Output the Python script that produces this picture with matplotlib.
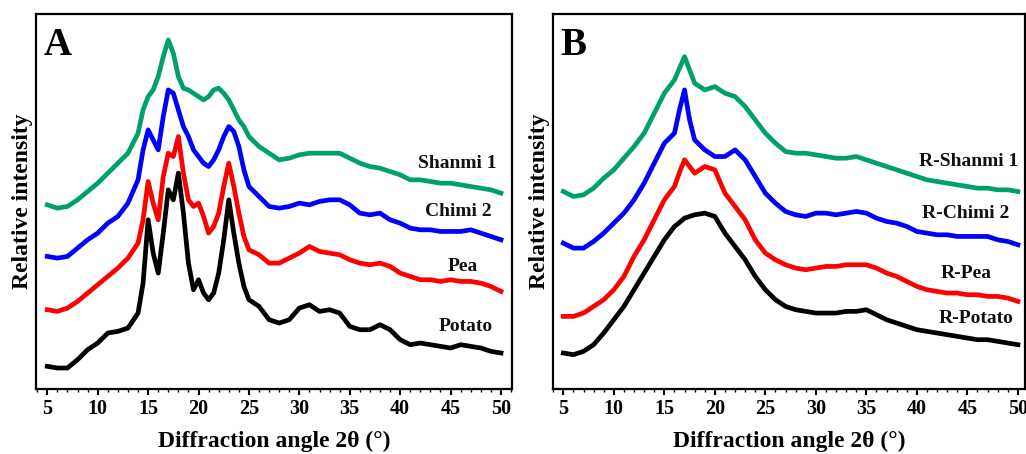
import matplotlib
matplotlib.use("Agg")
import matplotlib.pyplot as plt
from matplotlib.ticker import MultipleLocator

plt.rcParams['font.family'] = ['Liberation Serif', 'DejaVu Serif']

# ---------------- data (relative intensity, arbitrary units) ----------------
angle = [5, 6, 7, 8, 9, 10, 11, 12, 13, 14, 14.5, 15, 15.5, 16, 16.5, 17, 17.5,
         18, 18.5, 19, 19.5, 20, 20.5, 21, 21.5, 22, 22.5, 23, 23.5, 24, 24.5,
         25, 26, 27, 28, 29, 30, 31, 32, 33, 34, 35, 36, 37, 38, 39, 40, 41,
         42, 43, 44, 45, 46, 47, 48, 49, 50]

# Panel A (native starches)
potato = [68, 63, 63, 88, 118, 138, 168, 173, 183, 228, 318, 508, 408, 348, 468,
          598, 568, 648, 528, 378, 298, 328, 288, 268, 288, 348, 448, 568, 468,
          378, 308, 268, 248, 208, 198, 208, 243, 253, 233, 238, 228, 188, 178,
          178, 193, 178, 148, 133, 138, 133, 128, 123, 133, 128, 123, 113, 108]
pea = [238, 233, 243, 263, 288, 313, 338, 363, 393, 438, 508, 623, 558, 508,
       638, 708, 698, 758, 648, 568, 548, 558, 518, 468, 488, 528, 608, 678,
       608, 528, 458, 418, 403, 378, 378, 393, 408, 428, 413, 408, 403, 388,
       378, 373, 378, 368, 348, 338, 328, 328, 323, 328, 323, 323, 318, 308, 293]
chimi2 = [398, 393, 398, 423, 448, 468, 498, 518, 558, 628, 718, 778, 748, 718,
          818, 898, 888, 838, 788, 758, 718, 698, 678, 668, 688, 718, 758, 788,
          773, 728, 658, 608, 578, 548, 543, 548, 558, 553, 563, 568, 568, 553,
          528, 523, 528, 508, 498, 483, 478, 478, 473, 473, 473, 478, 468, 458, 448]
shanmi1 = [553, 543, 548, 568, 593, 618, 648, 678, 708, 768, 838, 878, 898, 938,
           998, 1048, 1008, 938, 903, 898, 888, 878, 868, 878, 898, 903, 888,
           868, 838, 808, 788, 758, 728, 708, 688, 693, 703, 708, 708, 708, 708,
           693, 678, 668, 663, 653, 643, 628, 628, 623, 618, 618, 613, 608, 603,
           598, 588]

# Panel B (retrograded starches)
angle_b = [5, 6, 7, 8, 9, 10, 11, 12, 13, 14, 15, 16, 16.5, 17, 17.5, 18, 19,
           20, 21, 22, 23, 24, 25, 26, 27, 28, 29, 30, 31, 32, 33, 34, 35, 36,
           37, 38, 39, 40, 41, 42, 43, 44, 45, 46, 47, 48, 49, 50]
r_potato = [108, 103, 113, 133, 168, 208, 248, 298, 348, 398, 448, 488, 500, 513,
            518, 523, 528, 518, 468, 428, 388, 338, 298, 268, 248, 238, 233,
            228, 228, 228, 233, 233, 238, 223, 208, 198, 188, 178, 173, 168,
            163, 158, 153, 148, 148, 143, 138, 133]
r_pea = [218, 218, 228, 248, 268, 298, 338, 398, 448, 508, 568, 608, 650, 688,
         668, 648, 668, 658, 588, 548, 508, 448, 408, 388, 373, 363, 358, 363,
         368, 368, 373, 373, 373, 363, 348, 338, 323, 308, 298, 293, 288, 288,
         283, 283, 278, 278, 273, 263]
r_chimi2 = [438, 423, 423, 443, 468, 498, 528, 568, 618, 678, 738, 768, 838, 898,
            808, 748, 718, 698, 698, 718, 688, 638, 588, 558, 533, 523, 518,
            528, 528, 523, 528, 533, 528, 513, 503, 498, 488, 473, 468, 463,
            463, 458, 458, 458, 458, 448, 443, 433]
r_shanmi1 = [593, 578, 583, 603, 633, 658, 693, 728, 768, 828, 888, 928, 963, 998,
             958, 918, 898, 908, 888, 878, 848, 808, 768, 738, 713, 708, 708,
             703, 698, 693, 693, 698, 688, 678, 668, 658, 648, 638, 628, 623,
             618, 613, 608, 603, 603, 598, 598, 593]

labels_a = ["Shanmi 1", "Chimi 2", "Pea", "Potato"]
labels_b = ["R-Shanmi 1", "R-Chimi 2", "R-Pea", "R-Potato"]
colors = ["#00a06a", "#0000ff", "#ff0000", "#000000"]

# ---------------- figure ----------------
fig = plt.figure(figsize=(10.26, 4.54), dpi=100)
ax_a = fig.add_axes([0.0351, 0.1432, 0.4639, 0.826])
ax_b = fig.add_axes([0.5387, 0.1432, 0.4603, 0.826])

series_a = [shanmi1, chimi2, pea, potato]
series_b = [r_shanmi1, r_chimi2, r_pea, r_potato]

label_pos_a = [(49.6, 678), (49.1, 533), (47.7, 368), (49.2, 188)]
label_pos_b = [(50.0, 683), (49.2, 528), (47.4, 348), (49.6, 213)]

for ax, xs, series, labels, lpos, letter, xlim in [
        (ax_a, angle, series_a, labels_a, label_pos_a, "A", (3.88, 51.09)),
        (ax_b, angle_b, series_b, labels_b, label_pos_b, "B", (3.95, 50.7))]:
    for ys, c in zip(series[::-1], colors[::-1]):
        ax.plot(xs, ys, color=c, lw=3.4, solid_joinstyle='round')
    for lab, (lx, ly) in zip(labels, lpos):
        ax.text(lx, ly, lab, ha='right', va='center', fontsize=14,
                fontweight='bold', color='#111111')
    ax.text(0.016, 0.965, letter, transform=ax.transAxes, ha='left', va='top',
            fontsize=28, fontweight='bold')
    ax.set_xlim(*xlim)
    ax.set_ylim(0, 1126)
    ax.set_yticks([])
    ax.xaxis.set_major_locator(MultipleLocator(5))
    ax.xaxis.set_minor_locator(MultipleLocator(1))
    ax.tick_params(axis='x', which='major', direction='out', length=4, width=1.5,
                   labelsize=14.5, pad=3)
    ax.tick_params(axis='x', which='minor', direction='out', length=2, width=1.0)
    for lbl in ax.get_xticklabels():
        lbl.set_fontweight('bold')
    for sp in ax.spines.values():
        sp.set_linewidth(1.6)
    ax.set_xlabel("Diffraction angle 2θ (°)", fontsize=17, fontweight='bold',
                  labelpad=9)
    ax.set_ylabel("Relative intensity", fontsize=17, fontweight='bold',
                  labelpad=2)

fig.savefig("out.png", dpi=100)
